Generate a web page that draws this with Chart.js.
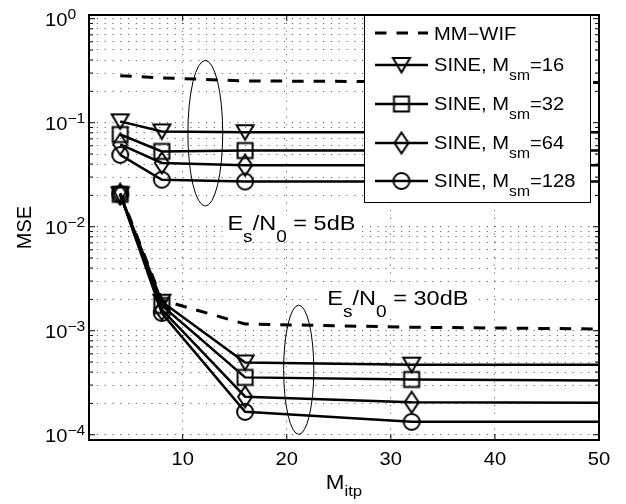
<!DOCTYPE html>
<html>
<head>
<meta charset="utf-8">
<script src="https://cdn.jsdelivr.net/npm/chart.js@4.4.1/dist/chart.umd.min.js"></script>
<style>
  html, body { margin: 0; padding: 0; background: #fff; }
</style>
</head>
<body>
<canvas id="mse-chart" width="626" height="504"></canvas>
<script>
// M_itp values (markers at 4, 8, 16, 32; lines run on to the edge at 50)
const mItp = [4, 8, 16, 32, 50];

// Es/N0 = 5dB
const mmWif5dB    = [0.283, 0.27, 0.252, 0.248, 0.243];
const sine16_5dB  = [0.103, 0.0825, 0.081, 0.081, 0.081];
const sine32_5dB  = [0.077, 0.053, 0.054, 0.054, 0.054];
const sine64_5dB  = [0.062, 0.041, 0.039, 0.039, 0.039];
const sine128_5dB = [0.049, 0.0283, 0.0272, 0.0272, 0.0272];

// Es/N0 = 30dB
const mmWif30dB    = [0.021, 0.00197, 0.00116, 0.00108, 0.00104];
const sine16_30dB  = [0.0205, 0.0019, 0.000495, 0.000472, 0.00047];
const sine32_30dB  = [0.0205, 0.00175, 0.000356, 0.00034, 0.000332];
const sine64_30dB  = [0.0205, 0.0016, 0.000232, 0.000205, 0.000203];
const sine128_30dB = [0.0205, 0.00148, 0.000166, 0.000133, 0.000133];

// axes
const xMin = 1, xMax = 50;
const yMin = 8.9e-5, yMax = 1.085;
const xTicks = [10, 20, 30, 40, 50];
const yDecades = [1e-4, 1e-3, 1e-2, 1e-1, 1];
const yDecadeExp = ['\u22124', '\u22123', '\u22122', '\u22121', '0'];
const yMinorSteps = [1, 2, 3, 4, 5, 6, 7, 8, 9];

// legend
const legendLabels = ['MM\u2212WIF', '16', '32', '64', '128'];

const SX = 1.12; // text is a little wide in the original
const FONT = '"Liberation Sans", Arial, sans-serif';

// open markers drawn once on small canvases
function makeMarker(shape) {
    const c = document.createElement('canvas');
    c.width = 24; c.height = 24;
    const g = c.getContext('2d');
    g.strokeStyle = '#000';
    g.lineWidth = 2;
    g.beginPath();
    if (shape === 'tri') {
        g.moveTo(3.5, 5); g.lineTo(20.5, 5); g.lineTo(12, 19.5); g.closePath();
    } else if (shape === 'square') {
        g.rect(4.5, 4.5, 15, 15);
    } else if (shape === 'diamond') {
        g.moveTo(12, 1.5); g.lineTo(19, 12); g.lineTo(12, 22.5); g.lineTo(5, 12); g.closePath();
    } else {
        g.arc(12, 12, 8, 0, Math.PI * 2);
    }
    g.stroke();
    return c;
}
const markers = [null, makeMarker('tri'), makeMarker('square'), makeMarker('diamond'), makeMarker('circle')];

function series(values, marker, dashed) {
    return {
        data: mItp.map((x, i) => ({ x: x, y: values[i] })),
        borderColor: '#000',
        borderWidth: dashed ? 3 : 2.5,
        borderDash: dashed ? [11.5, 10] : [],
        pointStyle: marker || 'circle',
        pointRadius: marker ? [9, 9, 9, 9, 0] : 0,
        tension: 0,
        fill: false
    };
}

// text with sub/superscripts: parts = [text, size, dy]
function partsWidth(ctx, parts) {
    let w = 0;
    parts.forEach(p => {
        ctx.font = p[1] + 'px ' + FONT;
        w += ctx.measureText(p[0]).width * SX;
    });
    return w;
}

function richText(ctx, parts, x, y, align) {
    const total = partsWidth(ctx, parts);
    let cx = align === 'center' ? x - total / 2 : x;
    parts.forEach(p => {
        ctx.save();
        ctx.font = p[1] + 'px ' + FONT;
        ctx.fillStyle = '#000';
        ctx.textAlign = 'left';
        ctx.textBaseline = 'alphabetic';
        const w = ctx.measureText(p[0]).width * SX;
        ctx.translate(cx, y + p[2]);
        ctx.scale(SX, 1);
        ctx.fillText(p[0], 0, 0);
        ctx.restore();
        cx += w;
    });
}

// annotations, placed in data units
const notes = [
    { x: 14.3, y: 0.0093, parts: [['E', 21, 0], ['s', 17, 12], ['/N', 21, 0], ['0', 17, 12], [' = 5dB', 21, 0]] },
    { x: 23.9, y: 0.00176, parts: [['E', 21, 0], ['s', 17, 12], ['/N', 21, 0], ['0', 17, 12], [' = 30dB', 21, 0]] }
];
const ellipses = [
    { x0: 10.5, x1: 13.85, y0: 0.0158, y1: 0.397 },
    { x0: 19.7, x1: 22.6, y0: 0.000101, y1: 0.00176 }
];

const decorPlugin = {
    id: 'decor',
    beforeDatasetsDraw(chart) {
        const ctx = chart.ctx;
        const xs = chart.scales.x, ys = chart.scales.y;
        ctx.save();
        ctx.fillStyle = '#fff';
        notes.forEach(n => {
            const px = xs.getPixelForValue(n.x), py = ys.getPixelForValue(n.y);
            const w = partsWidth(ctx, n.parts);
            ctx.fillRect(px - 5, py - 18, w + 10, 28);
        });
        ctx.restore();
    },
    afterDatasetsDraw(chart) {
        const ctx = chart.ctx;
        const area = chart.chartArea;
        const xs = chart.scales.x, ys = chart.scales.y;

        // ellipses
        ctx.save();
        ctx.strokeStyle = '#000';
        ctx.lineWidth = 1;
        ellipses.forEach(e => {
            const l = xs.getPixelForValue(e.x0), r = xs.getPixelForValue(e.x1);
            const t = ys.getPixelForValue(e.y1), b = ys.getPixelForValue(e.y0);
            ctx.beginPath();
            ctx.ellipse((l + r) / 2, (t + b) / 2, (r - l) / 2, (b - t) / 2, 0, 0, Math.PI * 2);
            ctx.stroke();
        });
        ctx.restore();

        notes.forEach(n => {
            richText(ctx, n.parts, xs.getPixelForValue(n.x), ys.getPixelForValue(n.y), 'left');
        });

        // frame and inner ticks
        ctx.save();
        ctx.strokeStyle = '#000';
        ctx.lineWidth = 1;
        ctx.beginPath();
        yDecades.forEach(d => yMinorSteps.forEach(m => {
            const v = d * m;
            if (v < yMin || v > yMax) return;
            const py = ys.getPixelForValue(v);
            const len = m === 1 ? 6 : 4;
            ctx.moveTo(area.left, py); ctx.lineTo(area.left + len, py);
            ctx.moveTo(area.right, py); ctx.lineTo(area.right - len, py);
        }));
        xTicks.forEach(v => {
            const px = xs.getPixelForValue(v);
            ctx.moveTo(px, area.bottom); ctx.lineTo(px, area.bottom - 6);
            ctx.moveTo(px, area.top); ctx.lineTo(px, area.top + 6);
        });
        ctx.stroke();
        ctx.lineWidth = 2;
        ctx.strokeRect(area.left, area.top, area.right - area.left, area.bottom - area.top);
        ctx.restore();

        // tick labels
        xTicks.forEach(v => {
            richText(ctx, [[String(v), 18, 0]], xs.getPixelForValue(v), 465, 'center');
        });
        yDecades.forEach((d, i) => {
            const py = ys.getPixelForValue(d);
            richText(ctx, [['10', 18, 0], [yDecadeExp[i], 14, -7]], 45, py + 7.5, 'left');
        });

        // axis titles
        richText(ctx, [['M', 20, 0], ['itp', 15, 7]], (area.left + area.right) / 2, 489, 'center');
        ctx.save();
        ctx.translate(31, (area.top + area.bottom) / 2);
        ctx.rotate(-Math.PI / 2);
        ctx.font = '20px ' + FONT;
        ctx.fillStyle = '#000';
        ctx.textAlign = 'center';
        ctx.fillText('MSE', 0, 0);
        ctx.restore();

        // legend
        const lx = 364.5, ly = 15.5, lw = 226, lh = 187;
        const rowY = [33, 65, 104, 143, 181];
        ctx.save();
        ctx.fillStyle = '#fff';
        ctx.fillRect(lx, ly, lw, lh);
        ctx.strokeStyle = '#000';
        ctx.lineWidth = 1;
        ctx.strokeRect(lx, ly, lw, lh);
        legendLabels.forEach((lab, i) => {
            const y = rowY[i];
            ctx.beginPath();
            ctx.lineWidth = i === 0 ? 3 : 2.5;
            ctx.setLineDash(i === 0 ? [11.5, 10] : []);
            ctx.moveTo(375, y); ctx.lineTo(428, y);
            ctx.stroke();
            ctx.setLineDash([]);
            if (markers[i]) ctx.drawImage(markers[i], 401.5 - 12, y - 12);
            if (i === 0) {
                richText(ctx, [[lab, 18, 0]], 434, y + 6.5, 'left');
            } else {
                richText(ctx, [['SINE, M', 18, 0], ['sm', 14, 9], ['=' + lab, 18, 0]], 434, y + 5.5, 'left');
            }
        });
        ctx.restore();
    }
};

const yGridValues = yDecades.flatMap(d => yMinorSteps.map(m => d * m)).filter(v => v >= yMin && v <= yMax);

const gridStyle = { color: 'rgba(0,0,0,0.6)', lineWidth: 1, drawTicks: false };
const borderStyle = { display: false, dash: [1.2, 6.6] };

new Chart(document.getElementById('mse-chart'), {
    type: 'line',
    data: {
        datasets: [
            series(mmWif5dB, null, true),
            series(sine16_5dB, markers[1]),
            series(sine32_5dB, markers[2]),
            series(sine64_5dB, markers[3]),
            series(sine128_5dB, markers[4]),
            series(mmWif30dB, null, true),
            series(sine16_30dB, markers[1]),
            series(sine32_30dB, markers[2]),
            series(sine64_30dB, markers[3]),
            series(sine128_30dB, markers[4])
        ]
    },
    options: {
        responsive: false,
        animation: false,
        devicePixelRatio: 1,
        layout: { padding: { left: 89, top: 15, right: 27, bottom: 64 } },
        plugins: { legend: { display: false }, tooltip: { enabled: false } },
        scales: {
            x: {
                type: 'linear', min: xMin, max: xMax,
                ticks: { display: false },
                grid: gridStyle, border: borderStyle,
                afterBuildTicks: s => { s.ticks = xTicks.map(v => ({ value: v })); }
            },
            y: {
                type: 'logarithmic', min: yMin, max: yMax,
                ticks: { display: false },
                grid: gridStyle, border: borderStyle,
                afterBuildTicks: s => { s.ticks = yGridValues.map(v => ({ value: v })); }
            }
        }
    },
    plugins: [decorPlugin]
});
</script>
</body>
</html>
